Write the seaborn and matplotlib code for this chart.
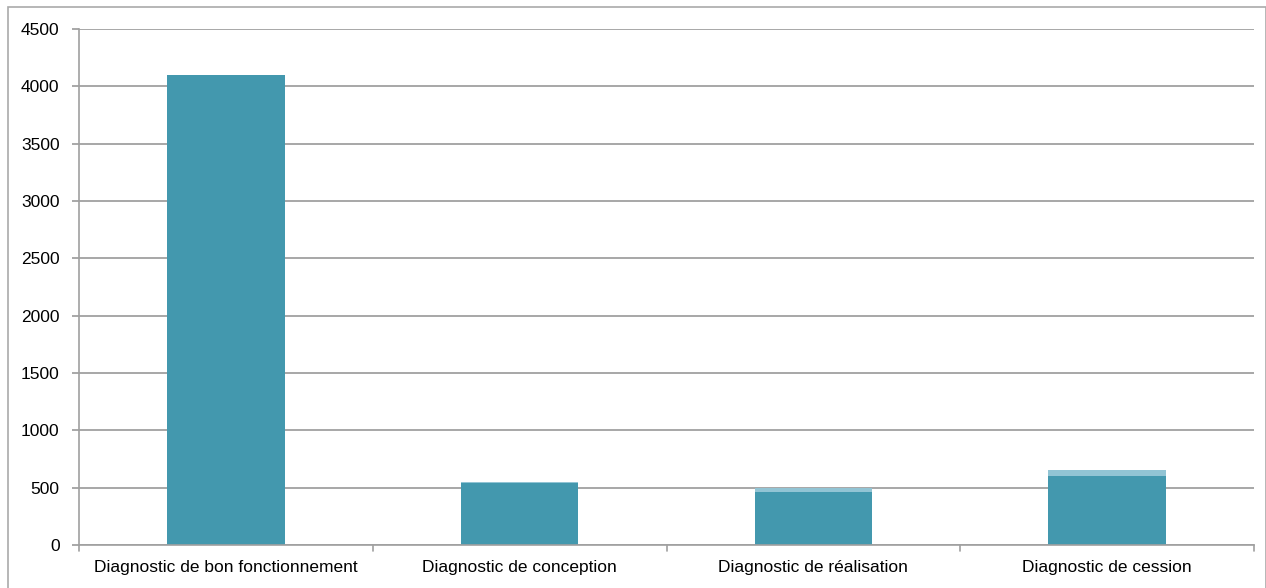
import numpy as np
import pandas as pd
import seaborn as sns
import matplotlib.pyplot as plt
from matplotlib.patches import Rectangle

categories = ['Diagnostic de bon fonctionnement', 'Diagnostic de conception',
              'Diagnostic de réalisation', 'Diagnostic de cession']
main_values = [4100, 545, 460, 605]
extra_values = [0, 8, 35, 50]
yticks = [0, 500, 1000, 1500, 2000, 2500, 3000, 3500, 4000, 4500]

df = pd.DataFrame({'cat': categories, 'main': main_values, 'extra': extra_values})
df['total'] = df['main'] + df['extra']

sns.set_style('white')
plt.rcParams['font.family'] = ['Liberation Sans', 'DejaVu Sans']

fig = plt.figure(figsize=(12.66, 5.88), dpi=100)
W, H = 1266, 588
ax = fig.add_axes([79 / W, (H - 545) / H, (1254 - 79) / W, (545 - 29) / H])

sns.barplot(data=df, x='cat', y='total', color='#92C4D4', saturation=1,
            width=0.4, linewidth=0, ax=ax)
sns.barplot(data=df, x='cat', y='main', color='#4398AE', saturation=1,
            width=0.4, linewidth=0, ax=ax)

ax.set_xlim(-0.5, 3.5)
ax.set_ylim(0, 4500)
ax.set_yticks(yticks)
ax.set_yticklabels([str(v) for v in yticks], fontsize=12.5)
ax.set_xlabel('')
ax.set_ylabel('')
ax.tick_params(axis='x', length=0, labelsize=12.5, pad=11, labelcolor='black')
ax.tick_params(axis='y', length=5, color='#999999', width=1.2, pad=9,
               left=True, labelcolor='black')

# gridlines
ax.yaxis.grid(True, color='#A0A0A0', linewidth=1.3)
ax.set_axisbelow(True)

for side in ['top', 'right']:
    ax.spines[side].set_visible(False)
ax.spines['left'].set_color('#A0A0A0')
ax.spines['left'].set_linewidth(1.2)
ax.spines['bottom'].set_color('#A0A0A0')
ax.spines['bottom'].set_linewidth(1.2)

# category separator ticks
for b in [-0.5, 0.5, 1.5, 2.5, 3.5]:
    ax.plot([b, b], [0, -0.012], transform=ax.get_xaxis_transform(),
            color='#A0A0A0', linewidth=1.2, clip_on=False)

# outer chart border
fig.add_artist(Rectangle((8 / W, -0.01), (W - 8) / W, (H - 7) / H + 0.01,
                         transform=fig.transFigure, fill=False,
                         edgecolor='#AAAAAA', linewidth=1.2))

fig.savefig('out.png', dpi=100)
